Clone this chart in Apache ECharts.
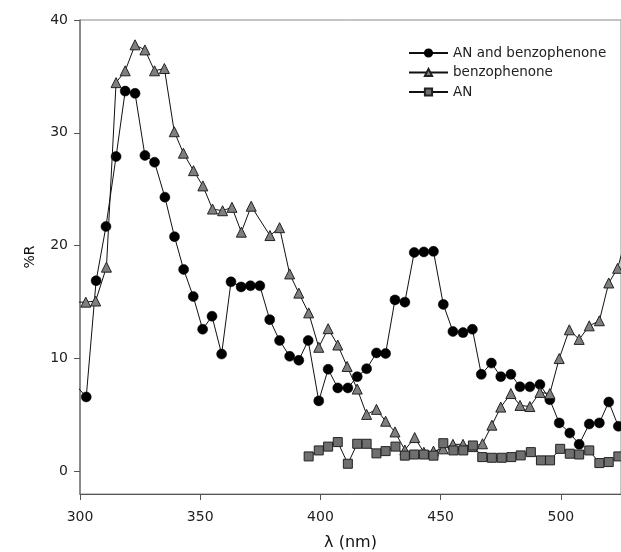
<!DOCTYPE html>
<html>
<head>
<meta charset="utf-8">
<script src="https://cdn.jsdelivr.net/npm/echarts@6/dist/echarts.min.js"></script>
<style>html,body{margin:0;padding:0;background:#fff}#c{width:621px;height:552px}</style>
</head>
<body>
<div id="c"></div>
<script>
// AN and benzophenone (circles)
const xAB = [298.4,302.6,306.7,310.8,315.0,318.8,322.9,327.0,331.0,335.3,339.3,343.1,347.1,351.0,354.9,358.9,362.8,367.0,370.9,374.8,378.9,383.0,387.2,391.0,394.9,399.3,403.2,407.2,411.4,415.3,419.2,423.3,427.1,431.0,435.1,439.0,443.0,447.0,451.1,455.1,459.3,463.2,466.9,471.1,475.0,479.2,483.0,487.1,491.3,495.4,499.3,503.7,507.6,511.8,516.0,519.9,523.9];
const yAB = [7.6,6.6,16.9,21.7,27.9,33.7,33.5,28.0,27.4,24.3,20.8,17.9,15.5,12.6,13.75,10.4,16.8,16.35,16.45,16.45,13.45,11.6,10.2,9.85,11.6,6.25,9.05,7.4,7.4,8.4,9.1,10.5,10.45,15.2,15.0,19.4,19.45,19.5,14.8,12.4,12.3,12.6,8.6,9.6,8.4,8.6,7.5,7.5,7.7,6.35,4.3,3.4,2.4,4.2,4.3,6.15,4.0];
// benzophenone (triangles)
const xB = [298.3,302.4,306.5,311.0,315.0,318.8,322.9,327.0,331.0,335.1,339.2,343.0,347.2,351.1,355.1,359.3,363.2,367.1,371.2,379.0,383.0,387.2,391.0,395.1,399.3,403.2,407.2,411.1,415.3,419.2,423.3,427.1,431.0,435.1,439.2,443.0,447.0,451.0,455.1,459.3,463.2,467.4,471.3,475.0,479.2,483.0,487.1,491.3,495.4,499.3,503.5,507.6,511.8,516.0,519.9,523.6,527.5];
const yB = [15.0,15.0,15.1,18.1,34.45,35.5,37.8,37.35,35.5,35.7,30.1,28.2,26.65,25.3,23.25,23.1,23.4,21.2,23.5,20.9,21.6,17.5,15.8,14.05,11.0,12.65,11.2,9.3,7.3,5.05,5.5,4.45,3.5,1.9,3.0,1.7,1.8,2.0,2.4,2.4,2.2,2.45,4.1,5.7,6.9,5.85,5.75,7.0,6.9,10.0,12.55,11.7,12.9,13.35,16.7,18.0,21.0];
// AN (squares)
const xAN = [395.1,399.3,403.2,407.2,411.4,415.3,419.2,423.3,427.1,431.2,435.1,439.0,443.0,447.0,451.1,455.3,459.4,463.4,467.3,471.3,475.4,479.4,483.3,487.5,491.7,495.5,499.7,503.7,507.6,511.8,516.0,519.9,523.9];
const yAN = [1.33,1.86,2.2,2.6,0.68,2.45,2.45,1.6,1.8,2.2,1.4,1.5,1.5,1.4,2.5,1.86,1.86,2.3,1.27,1.21,1.21,1.27,1.42,1.71,0.98,0.98,2.0,1.57,1.5,1.86,0.74,0.83,1.33];
const seriesNames = ['AN and benzophenone','benzophenone','AN'];
const xTicks = [300,350,400,450,500];
const yTicks = [0,10,20,30,40];

const pairs = (xs, ys) => xs.map((x, i) => [x, ys[i]]);
const font = 'DejaVu Sans';
const chart = echarts.init(document.getElementById('c'), null, {renderer: 'canvas'});
chart.setOption({
  animation: false,
  backgroundColor: '#fff',
  grid: {left: 80, right: 0, top: 20, bottom: 58, containLabel: false, outerBoundsMode: 'none',
         show: true, borderColor: '#8a8a8a', borderWidth: 1},
  legend: {
    left: 403, top: 40, orient: 'vertical', itemWidth: 39, itemHeight: 9, itemGap: 3.5,
    textStyle: {fontFamily: font, fontSize: 13.5, color: '#222', lineHeight: 16},
    data: seriesNames
  },
  xAxis: {
    type: 'value', min: 300, max: 525,
    name: 'λ (nm)', nameLocation: 'middle', nameGap: 41,
    nameTextStyle: {fontFamily: font, fontSize: 16, color: '#111'},
    axisLine: {show: true, onZero: false, lineStyle: {color: '#555', width: 1}},
    axisTick: {show: true, length: 6, customValues: xTicks, lineStyle: {color: '#555'}},
    axisLabel: {customValues: xTicks, fontFamily: font, fontSize: 14, color: '#222', margin: 16},
    splitLine: {show: false}
  },
  yAxis: {
    type: 'value', min: -2, max: 40,
    name: '%R', nameLocation: 'middle', nameGap: 43,
    nameTextStyle: {fontFamily: font, fontSize: 14, color: '#111'},
    axisLine: {show: true, onZero: false, lineStyle: {color: '#777', width: 1.5}},
    axisTick: {show: true, length: 6, customValues: yTicks, lineStyle: {color: '#555'}},
    axisLabel: {customValues: yTicks, fontFamily: font, fontSize: 14, color: '#222', margin: 12},
    splitLine: {show: false}
  },
  series: [
    {
      name: seriesNames[0], type: 'line', data: pairs(xAB, yAB), clip: true,
      symbol: 'circle', symbolSize: 10, showAllSymbol: true,
      lineStyle: {color: '#111', width: 1},
      itemStyle: {color: '#000', borderColor: '#000', borderWidth: 0.5}, z: 2
    },
    {
      name: seriesNames[1], type: 'line', data: pairs(xB, yB), clip: true,
      symbol: 'triangle', symbolSize: 10, showAllSymbol: true,
      lineStyle: {color: '#111', width: 1},
      itemStyle: {color: '#7f7f7f', borderColor: '#222', borderWidth: 1}, z: 3
    },
    {
      name: seriesNames[2], type: 'line', data: pairs(xAN, yAN), clip: true,
      symbol: 'rect', symbolSize: 9, showAllSymbol: true,
      lineStyle: {color: '#111', width: 1},
      itemStyle: {color: '#6f6f6f', borderColor: '#222', borderWidth: 1}, z: 4
    }
  ]
});
</script>
</body>
</html>
